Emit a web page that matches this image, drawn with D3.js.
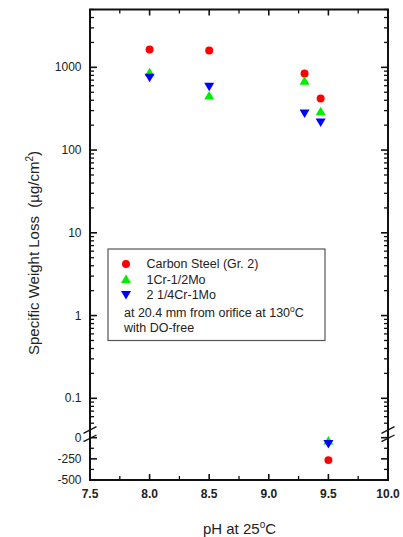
<!DOCTYPE html>
<html><head><meta charset="utf-8">
<script src="https://cdn.jsdelivr.net/npm/d3@7"></script>
<style>body{margin:0;background:#fff}svg{display:block}text{font-family:"Liberation Sans",Arial,sans-serif;fill:#222}</style>
</head><body>
<svg id="c" width="403" height="537"></svg>
<script>
// Data
const seriesNames = ["Carbon Steel (Gr. 2)", "1Cr-1/2Mo", "2 1/4Cr-1Mo"];
const carbonPH = [8.0, 8.5, 9.3, 9.435, 9.5];
const carbonVal = [1640, 1600, 840, 420, -265];
const crMoPH = [8.0, 8.5, 9.3, 9.435, 9.5];
const crMoVal = [860, 450, 680, 290, -38];
const cr2MoPH = [8.0, 8.5, 9.3, 9.435, 9.5];
const cr2MoVal = [760, 590, 280, 218, -70];
const xTicks = [7.5, 8.0, 8.5, 9.0, 9.5, 10.0];
const xMinor = [7.75, 8.25, 8.75, 9.25, 9.75];
const logMajor = [0.1, 1, 10, 100, 1000];
const linMajor = [0, -250, -500];
const linMinor = [-125, -375];

const svg = d3.select("#c");
const L = 90, R = 388, T = 9.5, B = 480;
const x = d3.scaleLinear().domain([7.5, 10]).range([L, R]);
const yLog = d3.scaleLog().domain([0.045, 5000]).range([427, T]);
const yLin = d3.scaleLinear().domain([-500, 0]).range([B, 437.7]);
const y = v => v > 0 ? yLog(v) : yLin(v);

const g = svg.append("g");
// frame
g.append("rect").attr("x", L).attr("y", T).attr("width", R - L).attr("height", B - T)
  .attr("fill", "none").attr("stroke", "#111").attr("stroke-width", 2);

// log minor ticks
const logMinor = [];
for (let e = -2; e <= 3; e++) for (let m = 2; m <= 9; m++) {
  const v = m * Math.pow(10, e);
  if (v >= 0.05 && v <= 5000) logMinor.push(v);
}
const tk = (x1, y1, x2, y2, w) => g.append("line").attr("x1", x1).attr("y1", y1).attr("x2", x2).attr("y2", y2)
  .attr("stroke", "#111").attr("stroke-width", w || 1.3);

logMajor.forEach(v => { tk(L, yLog(v), L + 7, yLog(v), 1.6); tk(R, yLog(v), R - 7, yLog(v), 1.6); });
logMinor.forEach(v => { tk(L, yLog(v), L + 4, yLog(v)); tk(R, yLog(v), R - 4, yLog(v)); });
linMajor.forEach(v => { tk(L, yLin(v), L + 7, yLin(v), 1.6); tk(R, yLin(v), R - 7, yLin(v), 1.6); });
linMinor.forEach(v => { tk(L, yLin(v), L + 4, yLin(v)); tk(R, yLin(v), R - 4, yLin(v)); });
xTicks.forEach(v => { tk(x(v), B, x(v), B - 6, 1.6); tk(x(v), T, x(v), T + 6, 1.6); });
xMinor.forEach(v => { tk(x(v), B, x(v), B - 4); tk(x(v), T, x(v), T + 4); });

// break marks
[L, R].forEach(cx => {
  [430, 438.3].forEach(cy => {
    g.append("line").attr("x1", cx - 6.5).attr("y1", cy + 3.3).attr("x2", cx + 6.5).attr("y2", cy - 3.3)
      .attr("stroke", "#111").attr("stroke-width", 1.3);
  });
});

// y labels
logMajor.forEach(v => g.append("text").attr("x", L - 8.5).attr("y", yLog(v) + 4).attr("text-anchor", "end")
  .attr("font-size", 12).text(String(v)));
linMajor.forEach(v => g.append("text").attr("x", L - 8.5).attr("y", yLin(v) + 4).attr("text-anchor", "end")
  .attr("font-size", 12).text(v));
// x labels
xTicks.forEach(v => g.append("text").attr("x", x(v)).attr("y", 498).attr("text-anchor", "middle")
  .attr("font-size", 12).attr("font-weight", "bold").text(v.toFixed(1)));

// axis titles
const xt = g.append("text").attr("x", 239.5).attr("y", 534).attr("text-anchor", "middle").attr("font-size", 15);
xt.append("tspan").text("pH at 25");
xt.append("tspan").attr("font-size", 10).attr("dy", -6).text("o");
xt.append("tspan").attr("dy", 6).text("C");

const yt = g.append("text").attr("transform", "translate(38.5,253) rotate(-90)").attr("text-anchor", "middle")
  .attr("font-size", 15).attr("xml:space", "preserve").style("white-space", "pre");
yt.append("tspan").text("Specific Weight Loss\u00a0\u00a0(µg/cm");
yt.append("tspan").attr("font-size", 10).attr("dy", -6).text("2");
yt.append("tspan").attr("dy", 6).text(")");

// markers
const colors = ["#ff0000", "#00ee00", "#0000ff"];
const circle = d3.symbol().type(d3.symbolCircle).size(50);
const triUp = "M0,-5L5,3.5L-5,3.5Z";
const triDown = "M0,5L5,-3.5L-5,-3.5Z";
const shapes = [circle(), triUp, triDown];
const series = [[carbonPH, carbonVal], [crMoPH, crMoVal], [cr2MoPH, cr2MoVal]];
series.forEach((s, i) => {
  g.append("g").selectAll("path").data(s[0].map((p, j) => [p, s[1][j]])).join("path")
    .attr("transform", d => `translate(${x(d[0])},${y(d[1])})`)
    .attr("d", shapes[i]).attr("fill", colors[i]);
});

// legend
g.append("rect").attr("x", 108).attr("y", 249).attr("width", 217).attr("height", 91.5)
  .attr("fill", "#fff").attr("stroke", "#555").attr("stroke-width", 1.2);
const rows = [264, 279.5, 294.5];
seriesNames.forEach((n, i) => {
  g.append("path").attr("transform", `translate(126,${rows[i]})`).attr("d", shapes[i]).attr("fill", colors[i]);
  g.append("text").attr("x", 146.5).attr("y", rows[i] + 4.2).attr("font-size", 12.5).text(n);
});
const n1 = g.append("text").attr("x", 124).attr("y", 316.8).attr("font-size", 12.5);
n1.append("tspan").text("at 20.4 mm from orifice at 130");
n1.append("tspan").attr("font-size", 8.5).attr("dy", -5).text("o");
n1.append("tspan").attr("dy", 5).text("C");
g.append("text").attr("x", 124).attr("y", 332.3).attr("font-size", 12.5).text("with DO-free");
</script>
</body></html>
